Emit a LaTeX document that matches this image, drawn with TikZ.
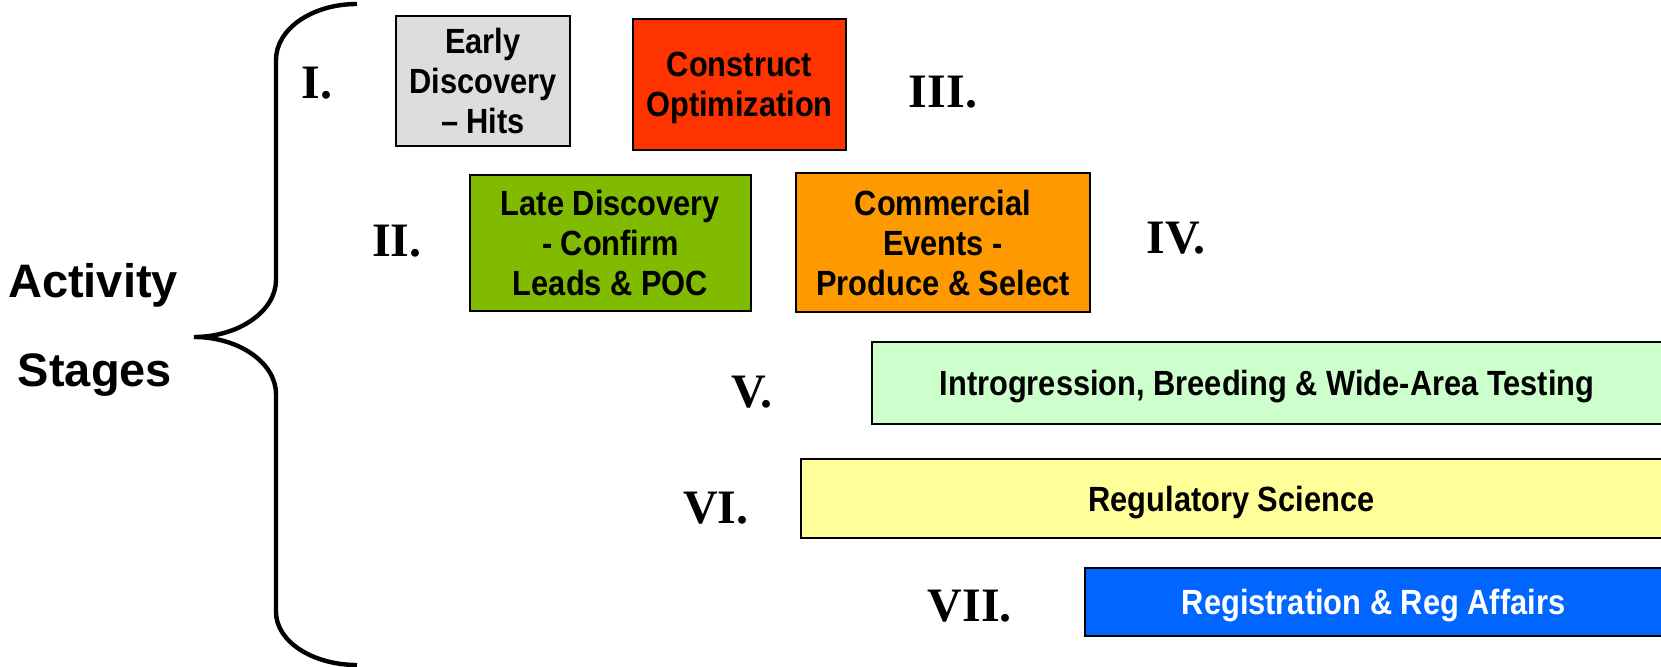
\documentclass[tikz,border=0pt]{standalone}
\usepackage{fontspec}
\setmainfont{Liberation Sans}
\newfontfamily\boxfont[FakeStretch=0.88]{Liberation Sans}
\newfontfamily\numfont{Liberation Serif}
\definecolor{hitgray}{HTML}{DDDDDD}
\definecolor{constructred}{HTML}{FF3300}
\definecolor{leadgreen}{HTML}{80BB00}
\definecolor{eventorange}{HTML}{FF9900}
\definecolor{breedgreen}{HTML}{CCFFCC}
\definecolor{regyellow}{HTML}{FFFF99}
\definecolor{regblue}{HTML}{0066FF}

\begin{document}
\begin{tikzpicture}[
  x=0.5pt,
  y=-0.5pt,
  phase/.style={
    draw,
    line width=1pt,
    inner sep=0pt,
    text depth=0pt,
    align=center,
    font=\boxfont\bfseries\fontsize{17.5}{20}\selectfont
  },
  numeral/.style={anchor=base,font=\numfont\bfseries\fontsize{24}{28}\selectfont},
  caption/.style={anchor=base,font=\bfseries\fontsize{23.5}{28}\selectfont}
]
  \useasboundingbox (0,0) rectangle (1661,667);

  % the brace
  \coordinate (tip) at (194,337);
  \draw[line width=2.2pt]
    (357,4) .. controls (312,4) and (276,29) .. (276,60) -- (276,280)
    .. controls (276,311) and (239,337) .. (tip)
    .. controls (239,337) and (276,363) .. (276,394) -- (276,612)
    .. controls (276,641) and (312,665) .. (357,665);

  \node[caption] (activity) at (93,298) {Activity};
  \node[caption] (stages) at (95,387) {Stages};

  \node[phase,fill=hitgray,minimum width=87pt,minimum height=65pt] (early) at (483,81)
    {Early\\Discovery\\– Hits};
  \node[phase,fill=constructred,minimum width=106.5pt,minimum height=65.5pt] (construct) at (739.5,84.5)
    {Construct\\Optimization};
  \node[phase,fill=leadgreen,minimum width=140.5pt,minimum height=68pt] (late) at (610.5,243)
    {Late Discovery\\- Confirm\\Leads \& POC};
  \node[phase,fill=eventorange,minimum width=147pt,minimum height=69.5pt] (events) at (943,242.5)
    {Commercial\\Events -\\Produce \& Select};
  \node[phase,fill=breedgreen,minimum width=395.5pt,minimum height=41pt] (breeding) at (1267,383)
    {Introgression, Breeding \& Wide-Area Testing};
  \node[phase,fill=regyellow,minimum width=431pt,minimum height=39.5pt] (science) at (1231.5,498.5)
    {Regulatory Science};
  \node[phase,fill=regblue,text=white,minimum width=289pt,minimum height=34pt] (affairs) at (1373.5,602)
    {Registration \& Reg Affairs};

  \node[numeral] (one) at (317,99) {I.};
  \node[numeral] (two) at (397,257) {II.};
  \node[numeral] (three) at (943,108) {III.};
  \node[numeral] (four) at (1176,254) {IV.};
  \node[numeral] (five) at (752,408) {V.};
  \node[numeral] (six) at (716,524) {VI.};
  \node[numeral] (seven) at (970,622) {VII.};
\end{tikzpicture}
\end{document}
